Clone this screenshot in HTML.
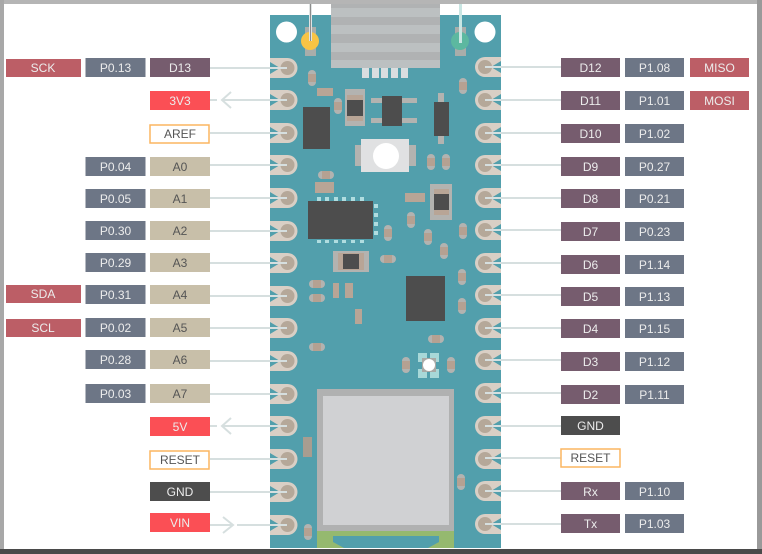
<!DOCTYPE html>
<html><head><meta charset="utf-8">
<style>
html,body{margin:0;padding:0;background:#fff}
svg{display:block}
text{font-family:"Liberation Sans",sans-serif;font-size:12px;text-anchor:middle;fill:#ececec}
.dk text,text.dk{fill:#555}
.s{fill:#bc5e66}.p{fill:#6d7686}.d{fill:#765c6e}.r{fill:#fb4f55}.a{fill:#c8bfa9}.g{fill:#4d4d4d}
.o{fill:#fff;stroke:#fbb661;stroke-width:1.5}
.l{stroke:#d6dfdf;stroke-width:2;fill:none}
.c{fill:#4d4d4d}.t{fill:#b8a596}.y{fill:#b3b3b0}.m{fill:#a8d8d8}
</style></head>
<body>
<svg width="762" height="554" viewBox="0 0 762 554" xmlns="http://www.w3.org/2000/svg">
<defs>
<g id="pl"><path d="M270 -10H287.500A10 10 0 0 1 287.500 10H270V6L280 0L270 -6Z" fill="#d9cfc5"/><circle cx="287.500" cy="0" r="7" fill="#b5a899"/></g>
<g id="pr"><path d="M501 -10H485A10 10 0 0 0 485 10H501V6L491 0L501 -6Z" fill="#d9cfc5"/><circle cx="485" cy="0" r="7" fill="#b5a899"/></g>
<g id="rv"><rect x="-4" y="-8" width="8" height="16" rx="4" fill="#b3b3b0"/><rect x="-4" y="-4" width="8" height="8" fill="#b5a192"/></g>
<g id="rh"><rect x="-8" y="-4" width="16" height="8" rx="4" fill="#b3b3b0"/><rect x="-4" y="-4" width="8" height="8" fill="#b5a192"/></g>
</defs>
<rect width="762" height="554" fill="#fff"/>

<!-- board -->
<rect x="270" y="15" width="231" height="533" fill="#529fac"/>
<!-- usb -->
<rect x="331" y="0" width="109" height="68" fill="#b0b2b3"/>
<rect x="331" y="8" width="109" height="9" fill="#bcc0c1"/>
<rect x="331" y="25" width="109" height="9" fill="#bcc0c1"/>
<rect x="331" y="43" width="109" height="9" fill="#bcc0c1"/>
<rect x="331" y="60" width="109" height="8" fill="#bcc0c1"/>
<g fill="#d9dee0"><rect x="362" y="68" width="7" height="10"/><rect x="372" y="68" width="7" height="10"/><rect x="381" y="68" width="7" height="10"/><rect x="391" y="68" width="7" height="10"/><rect x="401" y="68" width="7" height="10"/></g>
<circle cx="286.500" cy="32" r="10.500" fill="#fff"/><circle cx="485" cy="32" r="10.500" fill="#fff"/>
<rect x="305" y="27" width="11" height="29" fill="#a9adaa"/><circle cx="310" cy="41" r="9" fill="#f9c445"/>
<rect x="455" y="27" width="11" height="29" fill="#a9adaa"/><circle cx="460" cy="41" r="9" fill="#5cb8a0"/>
<path d="M310.500 4V41" stroke="#dfe3e3" stroke-width="3"/><path d="M310.500 4V41" stroke="#8c8c8c" stroke-width="1"/>
<path d="M460.500 4V43" stroke="#c9e6e3" stroke-width="3"/>

<!-- pads -->
<use href="#pl" y="68"/><use href="#pl" y="100"/><use href="#pl" y="133"/><use href="#pl" y="165"/><use href="#pl" y="198"/><use href="#pl" y="231"/><use href="#pl" y="263"/><use href="#pl" y="296"/><use href="#pl" y="328"/><use href="#pl" y="361"/><use href="#pl" y="394"/><use href="#pl" y="426"/><use href="#pl" y="459"/><use href="#pl" y="492"/><use href="#pl" y="525"/>
<use href="#pr" y="67"/><use href="#pr" y="100"/><use href="#pr" y="133"/><use href="#pr" y="165"/><use href="#pr" y="198"/><use href="#pr" y="230"/><use href="#pr" y="263"/><use href="#pr" y="295"/><use href="#pr" y="328"/><use href="#pr" y="360"/><use href="#pr" y="393"/><use href="#pr" y="426"/><use href="#pr" y="459"/><use href="#pr" y="491"/><use href="#pr" y="524"/>

<!-- components -->
<use href="#rv" x="312" y="78"/><use href="#rv" x="338" y="106"/><use href="#rv" x="463" y="86"/>
<rect x="317" y="88" width="16" height="8" class="t"/>
<rect x="345" y="89" width="20" height="37" class="y"/><rect x="347" y="95" width="16" height="26" class="t"/><rect x="347" y="100" width="16" height="16" class="c"/>
<rect x="303" y="107" width="27" height="42" class="c"/>
<rect x="371" y="98" width="46" height="5" class="y"/><rect x="371" y="118" width="46" height="5" class="y"/><rect x="382" y="96" width="20" height="30" class="c"/>
<rect x="438" y="93" width="6" height="51" class="y"/><rect x="434" y="102" width="15" height="34" class="c"/>
<rect x="355" y="145" width="61" height="21" class="y"/><rect x="361" y="139" width="48" height="33" fill="#e0e1e2"/><circle cx="386" cy="156" r="13" fill="#fff"/>
<use href="#rv" x="431" y="162"/><use href="#rv" x="446" y="162"/><use href="#rh" x="326" y="175"/>
<rect x="315" y="182" width="19" height="11" class="t"/>
<rect x="430" y="184" width="22" height="36" class="y"/><rect x="434" y="189" width="15" height="26" class="t"/><rect x="434" y="194" width="15" height="16" class="c"/>
<rect x="405" y="193" width="20" height="9" class="t"/>
<rect x="308" y="201" width="65" height="38" class="c"/>
<g fill="#b0dde0"><rect x="317" y="197" width="4" height="4"/><rect x="325" y="197" width="4" height="4"/><rect x="334" y="197" width="4" height="4"/><rect x="342" y="197" width="4" height="4"/><rect x="351" y="197" width="4" height="4"/><rect x="360" y="197" width="4" height="4"/>
<rect x="317" y="240" width="4" height="3"/><rect x="325" y="240" width="4" height="3"/><rect x="334" y="240" width="4" height="3"/><rect x="342" y="240" width="4" height="3"/><rect x="351" y="240" width="4" height="3"/><rect x="360" y="240" width="4" height="3"/>
<rect x="374" y="204" width="4" height="4"/><rect x="374" y="213" width="4" height="4"/><rect x="374" y="222" width="4" height="4"/><rect x="374" y="231" width="4" height="4"/></g>
<use href="#rv" x="411" y="220"/><use href="#rv" x="388" y="233"/><use href="#rv" x="428" y="237"/><use href="#rv" x="444" y="251"/><use href="#rv" x="463" y="231"/><use href="#rh" x="388" y="259"/>
<rect x="333" y="251" width="36" height="21" class="y"/><rect x="338" y="253" width="26" height="17" class="t"/><rect x="343" y="254" width="16" height="15" class="c"/>
<use href="#rh" x="317" y="284"/><use href="#rh" x="317" y="298"/>
<rect x="333" y="283" width="6" height="15" class="t"/><rect x="345" y="283" width="8" height="15" class="t"/><rect x="355" y="309" width="7" height="15" class="t"/>
<rect x="406" y="276" width="39" height="45" class="c"/>
<use href="#rv" x="462" y="277"/><use href="#rv" x="462" y="306"/><use href="#rh" x="436" y="339"/><use href="#rh" x="317" y="347"/>
<use href="#rv" x="406" y="365"/><use href="#rv" x="451" y="365"/>
<g class="m"><rect x="418" y="353" width="9" height="9"/><rect x="430" y="353" width="9" height="9"/><rect x="418" y="369" width="9" height="9"/><rect x="430" y="369" width="9" height="9"/></g>
<rect x="422" y="358" width="14" height="14" fill="#a9a9a5"/><circle cx="429" cy="365" r="6" fill="#fff"/>
<!-- module -->
<rect x="317" y="389" width="137" height="142" fill="#b0b1b1"/><rect x="323" y="396" width="126" height="129" fill="#d0d1d3"/>
<rect x="317" y="531" width="137" height="17" fill="#95b96f"/><path d="M333 536H439V542L428 548H344L333 542Z" fill="#529fac"/>
<rect x="303" y="437" width="9" height="20" fill="#a89d90"/>
<use href="#rv" x="461" y="482"/><use href="#rv" x="308" y="532"/>

<!-- connectors -->
<g class="l">
<path d="M210 68H287"/><path d="M210 100H217M222 100H287M231 92L222 100L231 108"/><path d="M210 133H287"/><path d="M210 165H287"/><path d="M210 198H287"/><path d="M210 231H287"/><path d="M210 263H287"/><path d="M210 296H287"/><path d="M210 328H287"/><path d="M210 361H287"/><path d="M210 394H287"/><path d="M210 426H217M222 426H287M231 418L222 426L231 434"/><path d="M210 459H287"/><path d="M210 492H287"/><path d="M210 525H232M237 525H287M223 517L233 525L223 533"/>
<path d="M485 67H561"/><path d="M485 100H561"/><path d="M485 133H561"/><path d="M485 165H561"/><path d="M485 198H561"/><path d="M485 230H561"/><path d="M485 263H561"/><path d="M485 295H561"/><path d="M485 328H561"/><path d="M485 360H561"/><path d="M485 393H561"/><path d="M485 426H561"/><path d="M485 458H561"/><path d="M485 491H561"/><path d="M485 524H561"/>
</g>

<!-- left labels -->
<rect x="6" y="59" width="75" height="18" class="s"/><text x="43" y="72">SCK</text>
<rect x="85.500" y="58" width="60" height="19" class="p"/><text x="115.500" y="72">P0.13</text>
<rect x="150" y="58" width="60" height="19" class="d"/><text x="180" y="72">D13</text>
<rect x="150" y="91" width="60" height="19" class="r"/><text x="180" y="105">3V3</text>
<rect x="150" y="125" width="59" height="18" class="o"/><text x="180" y="138" class="dk">AREF</text>
<rect x="85.500" y="157" width="60" height="19" class="p"/><text x="115.500" y="171">P0.04</text>
<rect x="150" y="157" width="60" height="19" class="a"/><text x="180" y="171" class="dk">A0</text>
<rect x="85.500" y="189" width="60" height="19" class="p"/><text x="115.500" y="203">P0.05</text>
<rect x="150" y="189" width="60" height="19" class="a"/><text x="180" y="203" class="dk">A1</text>
<rect x="85.500" y="221" width="60" height="19" class="p"/><text x="115.500" y="235">P0.30</text>
<rect x="150" y="221" width="60" height="19" class="a"/><text x="180" y="235" class="dk">A2</text>
<rect x="85.500" y="253" width="60" height="19" class="p"/><text x="115.500" y="267">P0.29</text>
<rect x="150" y="253" width="60" height="19" class="a"/><text x="180" y="267" class="dk">A3</text>
<rect x="6" y="285" width="75" height="18" class="s"/><text x="43" y="298">SDA</text>
<rect x="85.500" y="285" width="60" height="19" class="p"/><text x="115.500" y="299">P0.31</text>
<rect x="150" y="285" width="60" height="19" class="a"/><text x="180" y="299" class="dk">A4</text>
<rect x="6" y="319" width="75" height="18" class="s"/><text x="43" y="332">SCL</text>
<rect x="85.500" y="318" width="60" height="19" class="p"/><text x="115.500" y="332">P0.02</text>
<rect x="150" y="318" width="60" height="19" class="a"/><text x="180" y="332" class="dk">A5</text>
<rect x="85.500" y="350" width="60" height="19" class="p"/><text x="115.500" y="364">P0.28</text>
<rect x="150" y="350" width="60" height="19" class="a"/><text x="180" y="364" class="dk">A6</text>
<rect x="85.500" y="384" width="60" height="19" class="p"/><text x="115.500" y="398">P0.03</text>
<rect x="150" y="384" width="60" height="19" class="a"/><text x="180" y="398" class="dk">A7</text>
<rect x="150" y="417" width="60" height="19" class="r"/><text x="180" y="431">5V</text>
<rect x="150" y="451" width="59" height="18" class="o"/><text x="180" y="464" class="dk">RESET</text>
<rect x="150" y="482" width="60" height="19" class="g"/><text x="180" y="496">GND</text>
<rect x="150" y="513" width="60" height="19" class="r"/><text x="180" y="527">VIN</text>

<!-- right labels -->
<rect x="561" y="58" width="59" height="19" class="d"/><text x="590.500" y="72">D12</text>
<rect x="625" y="58" width="59" height="19" class="p"/><text x="654.500" y="72">P1.08</text>
<rect x="690" y="58" width="59" height="19" class="s"/><text x="719.500" y="72">MISO</text>
<rect x="561" y="91" width="59" height="19" class="d"/><text x="590.500" y="105">D11</text>
<rect x="625" y="91" width="59" height="19" class="p"/><text x="654.500" y="105">P1.01</text>
<rect x="690" y="91" width="59" height="19" class="s"/><text x="719.500" y="105">MOSI</text>
<rect x="561" y="124" width="59" height="19" class="d"/><text x="590.500" y="138">D10</text>
<rect x="625" y="124" width="59" height="19" class="p"/><text x="654.500" y="138">P1.02</text>
<rect x="561" y="157" width="59" height="19" class="d"/><text x="590.500" y="171">D9</text>
<rect x="625" y="157" width="59" height="19" class="p"/><text x="654.500" y="171">P0.27</text>
<rect x="561" y="189" width="59" height="19" class="d"/><text x="590.500" y="203">D8</text>
<rect x="625" y="189" width="59" height="19" class="p"/><text x="654.500" y="203">P0.21</text>
<rect x="561" y="222" width="59" height="19" class="d"/><text x="590.500" y="236">D7</text>
<rect x="625" y="222" width="59" height="19" class="p"/><text x="654.500" y="236">P0.23</text>
<rect x="561" y="255" width="59" height="19" class="d"/><text x="590.500" y="269">D6</text>
<rect x="625" y="255" width="59" height="19" class="p"/><text x="654.500" y="269">P1.14</text>
<rect x="561" y="287" width="59" height="19" class="d"/><text x="590.500" y="301">D5</text>
<rect x="625" y="287" width="59" height="19" class="p"/><text x="654.500" y="301">P1.13</text>
<rect x="561" y="319" width="59" height="19" class="d"/><text x="590.500" y="333">D4</text>
<rect x="625" y="319" width="59" height="19" class="p"/><text x="654.500" y="333">P1.15</text>
<rect x="561" y="352" width="59" height="19" class="d"/><text x="590.500" y="366">D3</text>
<rect x="625" y="352" width="59" height="19" class="p"/><text x="654.500" y="366">P1.12</text>
<rect x="561" y="385" width="59" height="19" class="d"/><text x="590.500" y="399">D2</text>
<rect x="625" y="385" width="59" height="19" class="p"/><text x="654.500" y="399">P1.11</text>
<rect x="561" y="416" width="59" height="19" class="g"/><text x="590.500" y="430">GND</text>
<rect x="561" y="449" width="59" height="18" class="o"/><text x="590.500" y="462" class="dk">RESET</text>
<rect x="561" y="482" width="59" height="18" class="d"/><text x="590.500" y="496">Rx</text>
<rect x="625" y="482" width="59" height="18" class="p"/><text x="654.500" y="496">P1.10</text>
<rect x="561" y="514" width="59" height="19" class="d"/><text x="590.500" y="528">Tx</text>
<rect x="625" y="514" width="59" height="19" class="p"/><text x="654.500" y="528">P1.03</text>

<!-- frame -->
<rect x="0" y="0" width="762" height="4" fill="#b5b5b5"/>
<rect x="0" y="0" width="4" height="554" fill="#a8a8a8"/>
<rect x="757" y="0" width="5" height="554" fill="#9a9a9a"/>
<rect x="0" y="549" width="762" height="5" fill="#4a4a4a"/>
</svg>
</body></html>
